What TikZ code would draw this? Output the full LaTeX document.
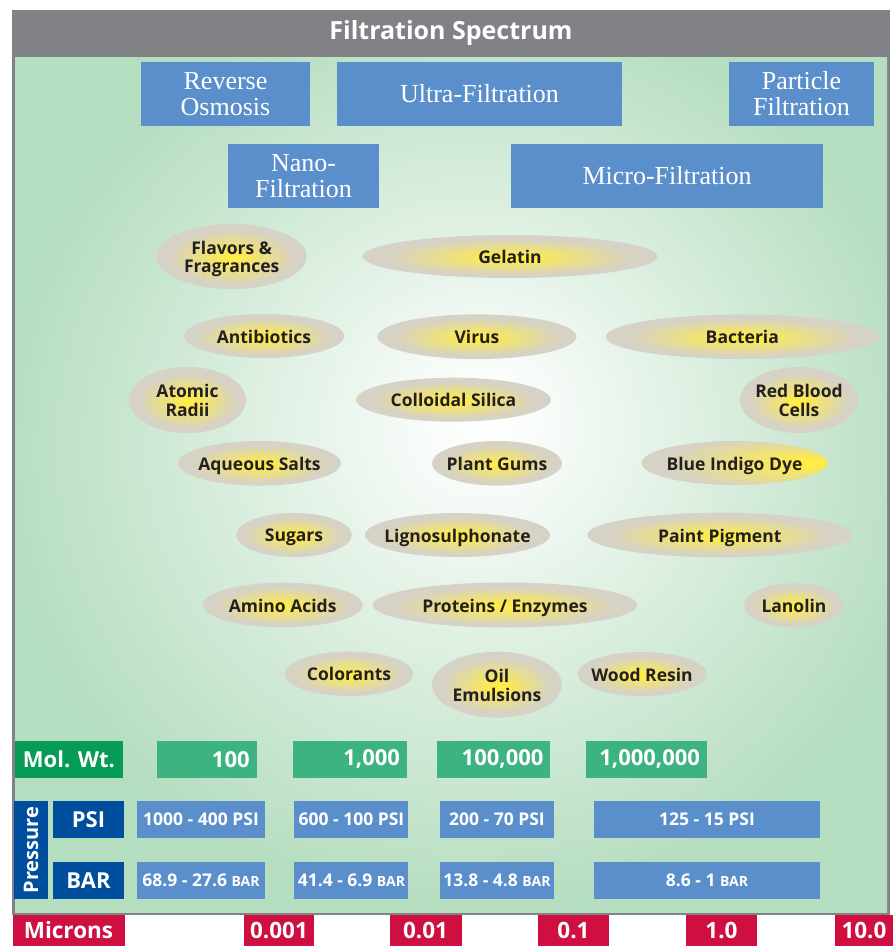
\documentclass[tikz,border=0pt]{standalone}
\usepackage{fontspec}
\setmainfont{Liberation Serif}
\setsansfont{Open Sans}
\usetikzlibrary{shapes.geometric}
\definecolor{framegray}{RGB}{129,130,133}
\definecolor{panelgreen}{RGB}{181,221,191}
\definecolor{procblue}{RGB}{91,143,204}
\definecolor{deepblue}{RGB}{0,79,158}
\definecolor{molgreen}{RGB}{62,179,130}
\definecolor{deepgreen}{RGB}{6,156,85}
\definecolor{micred}{RGB}{206,15,64}
\definecolor{blobgray}{RGB}{214,210,197}
\definecolor{blobyellow}{RGB}{255,236,70}
\definecolor{inkgray}{RGB}{35,31,32}
\pgfdeclareradialshading{yolk}{\pgfpoint{0bp}{-1bp}}{color(0bp)=(blobyellow); color(2bp)=(blobyellow); color(10bp)=(blobyellow!55!blobgray); color(21bp)=(blobgray); color(50bp)=(blobgray)}
\pgfdeclareradialshading{yolkright}{\pgfpoint{21bp}{0bp}}{color(0bp)=(blobyellow); color(4bp)=(blobyellow); color(28bp)=(blobgray); color(50bp)=(blobgray)}
\pgfdeclareradialshading{glow}{\pgfpoint{2bp}{4bp}}{color(0bp)=(white); color(3bp)=(white!92!panelgreen); color(27bp)=(panelgreen); color(50bp)=(panelgreen)}
\newcommand{\onblob}[1]{\makebox[0pt]{\raisebox{-3pt}[\height][\depth]{\begin{tabular}{@{}c@{}}#1\end{tabular}}}}
\newcommand{\smallbar}{{\fontsize{14}{14}\selectfont BAR}}
\tikzset{
	proc/.style={fill=procblue, text=white, minimum height=64pt, inner sep=0pt, align=center, font=\fontsize{26}{26}\selectfont},
	blob/.style 2 args={ellipse, shading=yolk, minimum width=#1pt, minimum height=#2pt, inner sep=0pt, text=inkgray, font=\sffamily\bfseries\fontsize{17.5}{17.5}\selectfont},
	tile/.style 2 args={minimum width=#1pt, minimum height=#2pt, inner sep=0pt, text=white, font=\sffamily\bfseries\fontsize{22}{22}\selectfont},
	molval/.style={fill=molgreen, minimum height=37pt, inner xsep=7pt, inner ysep=0pt, align=right, text width=#1, text=white, font=\sffamily\bfseries\fontsize{22}{22}\selectfont},
	psival/.style={tile={#1}{37}, fill=procblue, font=\sffamily\bfseries\fontsize{17.5}{17.5}\selectfont},
	mic/.style={tile={#1}{31}, fill=micred, font=\sffamily\bfseries\fontsize{22.5}{22.5}\selectfont}
}
\begin{document}
\begin{tikzpicture}[x=1pt,y=-1pt]
			\useasboundingbox (0,0) rectangle (893,946);
			\fill[framegray] (12,10) rectangle (890,915);
			\shade[shading=glow] (15,57) rectangle (887,912);
			\draw (451,33) node[text=white, font=\sffamily\bfseries\fontsize{25}{25}\selectfont](title){Filtration Spectrum};
			\draw
			(225.5,94) node[proc, minimum width=169pt](ro){Reverse\\Osmosis}
			(479.5,94) node[proc, minimum width=285pt](uf){Ultra-Filtration}
			(801.5,94) node[proc, minimum width=145pt](pf){Particle\\Filtration}
			(303.5,176) node[proc, minimum width=151pt](nf){Nano-\\Filtration}
			(667,176) node[proc, minimum width=312pt](mf){Micro-Filtration};
			\draw
			(231.7,256.5) node[blob={150}{65}](flavors){\onblob{Flavors \&\\Fragrances}}
			(510,256.5) node[blob={295}{43}](gelatin){\onblob{Gelatin}}
			(264,336) node[blob={160}{44}](antibiotics){\onblob{Antibiotics}}
			(477,336.7) node[blob={199}{44.6}](virus){\onblob{Virus}}
			(742.3,336.7) node[blob={273}{44.6}](bacteria){\onblob{Bacteria}}
			(187.5,400) node[blob={117}{66}](atomic){\onblob{Atomic\\Radii}}
			(453.5,399.7) node[blob={194.6}{44}](silica){\onblob{Colloidal Silica}}
			(799,400) node[blob={118}{66}](rbc){\onblob{Red Blood\\Cells}}
			(259.5,463.3) node[blob={162.6}{44.6}](salts){\onblob{Aqueous Salts}}
			(497,463.3) node[blob={130}{44.6}](gums){\onblob{Plant Gums}}
			(734.5,463) node[blob={185.6}{44}, shading=yolkright](indigo){\onblob{Blue Indigo Dye}}
			(294,535) node[blob={115.7}{44}](sugars){\onblob{Sugars}}
			(457.5,535) node[blob={185}{44}](ligno){\onblob{Lignosulphonate}}
			(719.7,535) node[blob={264.7}{44.6}](paint){\onblob{Paint Pigment}}
			(282.7,605) node[blob={160}{44.6}](amino){\onblob{Amino Acids}}
			(505,605) node[blob={264.6}{45}](proteins){\onblob{Proteins / Enzymes}}
			(794,605.3) node[blob={99.7}{44}](lanolin){\onblob{Lanolin}}
			(349,673.8) node[blob={128.6}{44.4}](colorants){\onblob{Colorants}}
			(497,684.7) node[blob={129.7}{66}](oil){\onblob{Oil\\Emulsions}}
			(642,674) node[blob={129}{44}](resin){\onblob{Wood Resin}};
			\draw
			(69,759.3) node[tile={108}{37}, fill=deepgreen](molwt){Mol. Wt.}
			(207,759.3) node[molval=85.3pt](mw1){100}
			(350,759.3) node[molval=100pt](mw2){1,000}
			(493.7,759.3) node[molval=99.5pt](mw3){100,000}
			(646.5,759.3) node[molval=107pt](mw4){1,000,000};
			\draw
			(31,850) node[tile={98}{34}, fill=deepblue, rotate=90, font=\sffamily\bfseries\fontsize{20}{20}\selectfont](pressure){Pressure}
			(88.5,819.4) node[tile={71}{37}, fill=deepblue](psi){PSI}
			(88.5,880.4) node[tile={71}{37}, fill=deepblue](bar){BAR}
			(201,819.4) node[psival=127.2](psi1){1000 - 400 PSI}
			(351.4,819.4) node[psival=114](psi2){600 - 100 PSI}
			(496.9,819.4) node[psival=114.2](psi3){200 - 70 PSI}
			(707,819.4) node[psival=226.5](psi4){125 - 15 PSI}
			(201,880.4) node[psival=127.2](bar1){68.9 - 27.6 \smallbar}
			(351.4,880.4) node[psival=114](bar2){41.4 - 6.9 \smallbar}
			(496.9,880.4) node[psival=114.2](bar3){13.8 - 4.8 \smallbar}
			(707,880.4) node[psival=226.5](bar4){8.6 - 1 \smallbar};
			\draw
			(68.5,930.5) node[mic=112](microns){Microns}
			(279,930.5) node[mic=70.7](m1){0.001}
			(425.5,930.5) node[mic=72](m2){0.01}
			(573.5,930.5) node[mic=71](m3){0.1}
			(721.5,930.5) node[mic=71](m4){1.0}
			(864,930.5) node[mic=58.4](m5){10.0};
		\end{tikzpicture}
\end{document}
